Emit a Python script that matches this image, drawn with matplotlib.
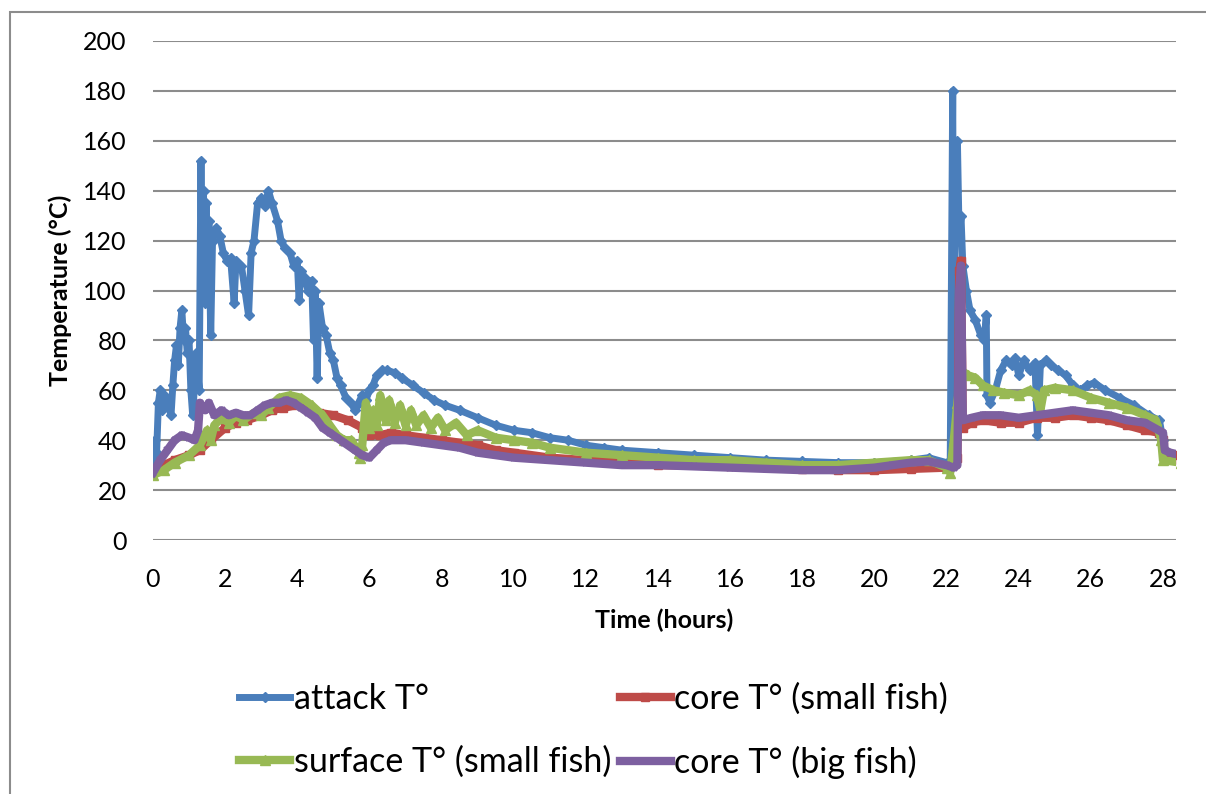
import matplotlib.pyplot as plt
from matplotlib.patches import Rectangle

plt.rcParams['font.family'] = ['Lato', 'DejaVu Sans']

# attack temperature (blue)
attack_t = [0.0, 0.05, 0.1, 0.15, 0.2, 0.25, 0.3, 0.4, 0.5, 0.55, 0.6, 0.65, 0.7, 0.75, 0.8, 0.85, 0.9, 0.95,
            1.0, 1.05, 1.1, 1.15, 1.2, 1.28, 1.33, 1.36, 1.4, 1.43, 1.47, 1.5, 1.55, 1.6, 1.65, 1.75, 1.85, 1.95,
            2.05, 2.15, 2.25, 2.3, 2.45, 2.55, 2.65, 2.72, 2.8, 2.9, 3.0, 3.1, 3.2, 3.3, 3.45, 3.55, 3.65, 3.8,
            3.9, 4.0, 4.05, 4.1, 4.2, 4.3, 4.4, 4.45, 4.5, 4.55, 4.6, 4.7, 4.8, 4.9, 5.0, 5.1, 5.2, 5.35, 5.5,
            5.6, 5.7, 5.8, 5.9, 6.0, 6.1, 6.2, 6.35, 6.5, 6.7, 6.9, 7.2, 7.5, 7.8, 8.1, 8.5, 9.0, 9.5, 10.0,
            10.5, 11.0, 11.5, 12.0, 12.5, 13.0, 14.0, 15.0, 16.0, 17.0, 18.0, 19.0, 20.0, 21.0, 21.5, 22.0,
            22.1, 22.17, 22.2, 22.25, 22.3, 22.35, 22.4, 22.45, 22.55, 22.65, 22.8, 22.95, 23.05, 23.1, 23.12,
            23.2, 23.35, 23.5, 23.65, 23.8, 23.9, 24.0, 24.15, 24.3, 24.45, 24.52, 24.6, 24.75, 24.9, 25.1,
            25.3, 25.5, 25.7, 25.9, 26.1, 26.4, 26.8, 27.2, 27.6, 27.9, 28.0, 28.05, 28.2, 28.5]
attack_v = [28, 40, 35, 55, 60, 52, 58, 55, 50, 62, 72, 78, 70, 85, 92, 80, 85, 75,
            80, 60, 50, 62, 75, 60, 152, 100, 140, 95, 135, 105, 128, 82, 120, 125, 122, 115,
            112, 113, 95, 112, 110, 100, 90, 115, 120, 135, 137, 134, 140, 135, 128, 120, 117, 115,
            110, 112, 96, 108, 105, 100, 104, 80, 100, 65, 95, 85, 82, 75, 72, 65, 62, 57, 55,
            52, 55, 58, 56, 60, 62, 66, 68, 68, 67, 65, 62, 59, 56, 54, 52, 49, 46, 44,
            43, 41, 40, 38, 37, 36, 35, 34, 33, 32, 31.5, 31, 31, 32, 33, 31,
            29, 180, 50, 140, 160, 120, 130, 110, 100, 92, 88, 82, 80, 90, 58,
            55, 60, 68, 72, 70, 73, 66, 72, 68, 71, 42, 70, 72, 70, 68,
            66, 62, 60, 62, 63, 60, 57, 54, 50, 48, 40, 34, 33, 33]

# core temperature, small fish (red)
core_small_t = [0, 0.3, 0.6, 1.0, 1.3, 1.6, 2.0, 2.3, 2.6, 3.0, 3.3, 3.6, 4.0, 4.3, 4.6, 5.0, 5.4, 5.8,
                6.0, 6.3, 6.6, 7.0, 7.5, 8.0, 8.5, 9.0, 9.5, 10.0, 11, 12, 13, 14, 16, 18, 19, 20, 21, 22,
                22.2, 22.3, 22.35, 22.4, 22.45, 22.7, 23.0, 23.5, 24, 24.5, 25, 25.5, 26, 26.5, 27, 27.5,
                27.9, 28.0, 28.05, 28.3, 28.5]
core_small_v = [28, 30, 32, 34, 36, 40, 45, 47, 48, 50, 52, 53, 54, 53, 51, 50, 48, 45,
                42, 42, 43, 42, 41, 40, 39, 38, 36, 35, 33, 32, 31, 30, 29.5, 28.5, 28, 28, 28.5, 29,
                31, 33, 108, 112, 45, 47, 48, 47, 47, 49, 49, 50, 49, 48, 46, 44,
                43, 40, 33, 34, 32]

# surface temperature, small fish (green)
surface_small_t = [0, 0.3, 0.6, 1.0, 1.3, 1.5, 1.6, 1.7, 1.9, 2.1, 2.3, 2.5, 2.8, 3.0, 3.2, 3.5, 3.8, 4.1,
                   4.4, 4.7, 4.9, 5.1, 5.3, 5.5, 5.7, 5.75, 5.8, 5.9, 6.0, 6.1, 6.2, 6.3, 6.45, 6.55, 6.7,
                   6.85, 7.0, 7.15, 7.3, 7.5, 7.7, 7.9, 8.1, 8.4, 8.7, 9.0, 9.5, 10, 10.5, 11, 12, 13, 14,
                   15, 16, 17, 18, 19, 20, 21, 21.5, 22, 22.1, 22.2, 22.3, 22.4, 22.6, 22.8, 23.0, 23.3,
                   23.6, 24, 24.3, 24.5, 24.6, 24.7, 25, 25.5, 26, 26.5, 27, 27.5, 27.8, 27.95, 28.0, 28.5]
surface_small_v = [26, 28, 31, 34, 38, 44, 40, 46, 49, 47, 50, 48, 51, 50, 53, 57, 58, 57,
                   54, 50, 46, 42, 40, 40, 35, 33, 38, 55, 45, 52, 46, 58, 48, 56, 47,
                   54, 46, 52, 46, 50, 45, 49, 44, 47, 42, 44, 41, 40, 39, 37, 35, 34, 33,
                   32, 32, 31, 30, 30, 31, 32, 32, 29, 27, 40, 55, 68, 66, 65, 62, 60,
                   59, 58, 60, 58, 52, 60, 61, 60, 57, 55, 53, 50, 48, 40, 32, 31]

# core temperature, big fish (purple)
core_big_t = [0, 0.2, 0.4, 0.6, 0.8, 1.0, 1.15, 1.25, 1.3, 1.45, 1.55, 1.7, 1.9, 2.1, 2.3, 2.5, 2.7, 2.9,
              3.1, 3.3, 3.5, 3.7, 3.9, 4.1, 4.3, 4.5, 4.7, 4.9, 5.1, 5.3, 5.6, 5.8, 6.0, 6.2, 6.4, 6.6,
              7.0, 7.5, 8, 8.5, 9, 9.5, 10, 11, 12, 13, 14, 15, 16, 17, 18, 19, 20, 20.5, 21, 21.5, 22,
              22.2, 22.3, 22.35, 22.4, 22.45, 22.7, 23, 23.5, 24, 24.5, 25, 25.5, 26, 26.5, 27, 27.5,
              28, 28.05, 28.2, 28.5]
core_big_v = [27, 32, 36, 40, 42, 41, 40, 44, 55, 52, 55, 50, 52, 50, 51, 50, 50, 52,
              54, 55, 55, 56, 55, 53, 51, 49, 45, 43, 41, 39, 36, 34, 33, 36, 39, 40,
              40, 39, 38, 37, 35, 34, 33, 32, 31, 30, 30, 29.5, 29, 28.5, 28, 28, 29, 30, 31, 31.5, 30,
              29, 30, 100, 110, 48, 49, 50, 50, 49, 50, 51, 52, 51, 50, 48, 47,
              43, 36, 35, 34]

labels = ['attack T°', 'core T° (small fish)', 'surface T° (small fish)', 'core T° (big fish)']
x_ticks = list(range(0, 29, 2))
y_ticks = list(range(0, 201, 20))

fig = plt.figure(figsize=(12.06, 7.94), dpi=100)
ax = fig.add_axes([153 / 1206, 1 - 540 / 794, (1176 - 153) / 1206, (540 - 41) / 794])

# outer chart border
fig.patches.append(Rectangle((10 / 1206, -0.1), 1.2, 1.1 - 12 / 794, transform=fig.transFigure,
                             fill=False, edgecolor='#8c8c8c', linewidth=1.5))

l_attack, = ax.plot(attack_t, attack_v, color='#4a7ebb', lw=5, marker='D', ms=5, label=labels[0], zorder=3)
l_core_s, = ax.plot(core_small_t, core_small_v, color='#be4b48', lw=6, marker='s', ms=6, label=labels[1], zorder=4)
l_surf_s, = ax.plot(surface_small_t, surface_small_v, color='#98b954', lw=6, marker='^', ms=7, label=labels[2], zorder=5)
l_core_b, = ax.plot(core_big_t, core_big_v, color='#7d60a0', lw=6, marker='x', ms=5, mew=1.5, label=labels[3], zorder=6)

ax.set_xlim(0, 28.36)
ax.set_ylim(0, 200)
ax.set_xticks(x_ticks)
ax.set_yticks(y_ticks)
ax.tick_params(length=0, labelsize=18)
ax.tick_params(axis='x', pad=20)
ax.tick_params(axis='y', pad=19)
ax.grid(axis='y', color='#8c8c8c', lw=1.5)
ax.set_axisbelow(True)
for s in ax.spines.values():
    s.set_visible(False)

ax.set_xlabel('Time (hours)', fontsize=18, fontweight='bold', labelpad=13)
ax.set_ylabel('Temperature (°C)', fontsize=18, fontweight='bold', labelpad=8)

# row-wise order: attack, core small / surface small, core big
fig.legend([l_attack, l_surf_s, l_core_s, l_core_b], [labels[0], labels[2], labels[1], labels[3]],
           loc='lower left', bbox_to_anchor=(212 / 1206, -12 / 794), ncol=2, frameon=False, fontsize=24.5,
           handlelength=1.5, handletextpad=0.1, columnspacing=0.25, labelspacing=0.9, borderpad=0.3)

fig.savefig('out.png', dpi=100)
